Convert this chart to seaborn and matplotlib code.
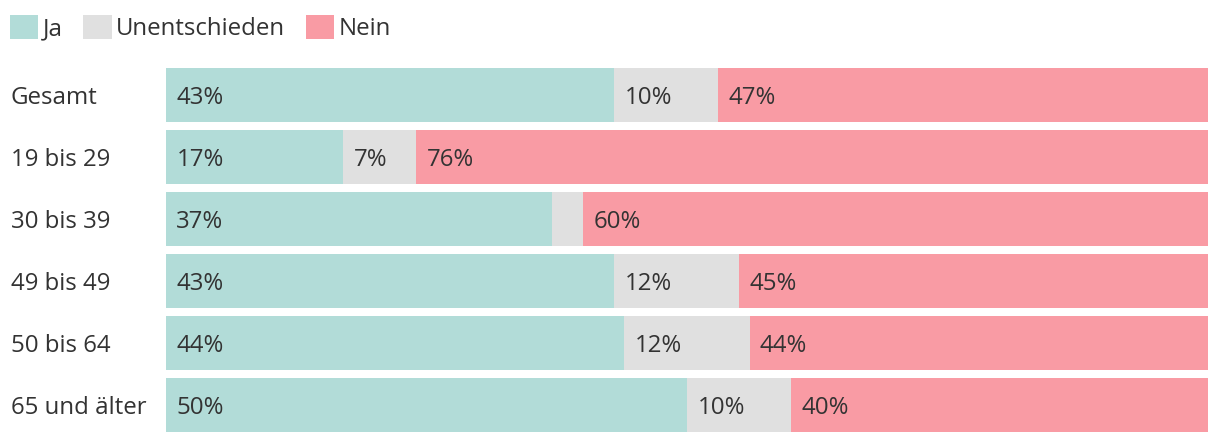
import numpy as np
import pandas as pd
import matplotlib
matplotlib.use("Agg")
import matplotlib.pyplot as plt
import seaborn as sns
from matplotlib.patches import Patch
from matplotlib import font_manager as fm

groups = ["Gesamt", "19 bis 29", "30 bis 39", "49 bis 49", "50 bis 64", "65 und älter"]
ja = [43, 17, 37, 43, 44, 50]
unentschieden = [10, 7, 3, 12, 12, 10]
nein = [47, 76, 60, 45, 44, 40]

col_ja = "#b2dcd8"
col_un = "#e0e0e0"
col_nein = "#f99ba4"
txt = "#333333"

sns.set_theme(style="white")
plt.rcParams["font.family"] = ["Open Sans", "DejaVu Sans"]

# the variable Open Sans file renders narrow, use the static regular one
reg = [f.fname for f in fm.fontManager.ttflist if f.fname.endswith("OpenSans-Regular.ttf")]
fsize = 17.3
fp = fm.FontProperties(fname=reg[0], size=fsize) if reg else fm.FontProperties(family="Open Sans", size=fsize)

df = pd.DataFrame({"group": groups, "Ja": ja, "Unentschieden": unentschieden, "Nein": nein})
df["c1"] = df["Ja"]
df["c2"] = df["Ja"] + df["Unentschieden"]
df["c3"] = df["c2"] + df["Nein"]

fig = plt.figure(figsize=(12.2, 4.44), dpi=100)
ax = fig.add_axes([166 / 1220, 8 / 444, 1042 / 1220, 372 / 444])

# stacked by overlapping cumulative bars
for col, c in [("c3", col_nein), ("c2", col_un), ("c1", col_ja)]:
    sns.barplot(data=df, x=col, y="group", orient="h", color=c, width=54 / 62,
                saturation=1, linewidth=0, ax=ax)

ax.set_xlim(0, 100)
ax.set_ylim(5.5, -0.5)
ax.set_xlabel("")
ax.set_ylabel("")
ax.set_xticks([])
for s in ax.spines.values():
    s.set_visible(False)
ax.tick_params(axis="y", length=0, pad=0)
ax.set_yticks(range(len(groups)))
ax.set_yticklabels([])

off = 1.0
for i, g in enumerate(groups):
    fig.text(11 / 1220, (444 - (104 + 62 * i)) / 444, g, ha="left", va="baseline",
             fontproperties=fp, color=txt)
    starts = [0, df["c1"][i], df["c2"][i]]
    vals = [ja[i], unentschieden[i], nein[i]]
    for st, v in zip(starts, vals):
        if v >= 5:
            ax.text(st + off, i + 9 / 62, f"{v}%", ha="left", va="baseline",
                    fontproperties=fp, color=txt)

handles = [Patch(color=col_ja, label="Ja", linewidth=0),
           Patch(color=col_un, label="Unentschieden", linewidth=0),
           Patch(color=col_nein, label="Nein", linewidth=0)]
fig.legend(handles=handles, loc="upper left", bbox_to_anchor=(0.0, 1 - 5 / 444), ncol=3,
           frameon=False, prop=fp, handlelength=1.17, handleheight=1.17,
           handletextpad=0.2, columnspacing=0.85, borderpad=0, borderaxespad=0.42,
           labelcolor=txt)

fig.savefig("out.png", dpi=100)
